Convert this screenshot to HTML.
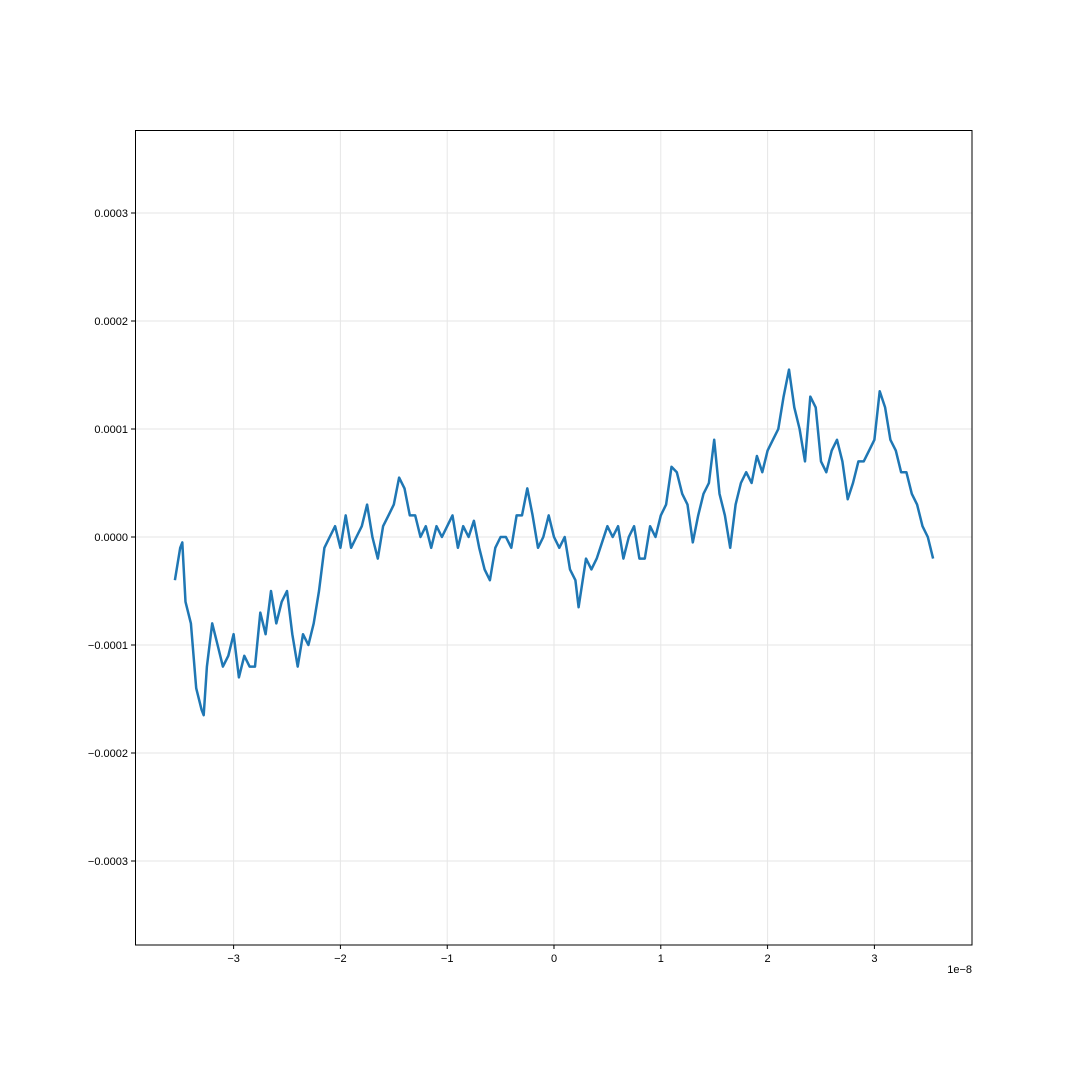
<!DOCTYPE html>
<html><head><meta charset="utf-8">
<style>
html,body{margin:0;padding:0;background:#fff;}
svg{display:block;font-family:"Liberation Sans","DejaVu Sans",sans-serif;}
</style></head>
<body>
<svg id="chart" width="1080" height="1080" viewBox="0 0 1080 1080" xmlns="http://www.w3.org/2000/svg">
<rect width="1080" height="1080" fill="#fff"/>
<g id="grid"></g>
<g id="series"></g>
<rect x="135.5" y="130.5" width="836.5" height="814.5" fill="none" stroke="#000" stroke-width="1"/>
<g id="xticks"></g>
<g id="yticks"></g>
<text x="972" y="973" text-anchor="end" font-size="11">1e−8</text>
</svg>
<script>
const xVals = [-3.55,-3.5,-3.48,-3.45,-3.4,-3.35,-3.3,-3.28,-3.25,-3.2,-3.15,-3.1,-3.05,-3.0,-2.95,-2.9,-2.85,-2.8,-2.75,-2.7,-2.65,-2.6,-2.55,-2.5,-2.45,-2.4,-2.35,-2.3,-2.25,-2.2,-2.15,-2.1,-2.05,-2.0,-1.95,-1.9,-1.85,-1.8,-1.75,-1.7,-1.65,-1.6,-1.55,-1.5,-1.45,-1.4,-1.35,-1.3,-1.25,-1.2,-1.15,-1.1,-1.05,-1.0,-0.95,-0.9,-0.85,-0.8,-0.75,-0.7,-0.65,-0.6,-0.55,-0.5,-0.45,-0.4,-0.35,-0.3,-0.25,-0.2,-0.15,-0.1,-0.05,0,0.05,0.1,0.15,0.2,0.23,0.3,0.35,0.4,0.5,0.55,0.6,0.65,0.7,0.75,0.8,0.85,0.9,0.95,1.0,1.05,1.1,1.15,1.2,1.25,1.3,1.35,1.4,1.45,1.5,1.55,1.6,1.65,1.7,1.75,1.8,1.85,1.9,1.95,2.0,2.05,2.1,2.15,2.2,2.25,2.3,2.35,2.4,2.45,2.5,2.55,2.6,2.65,2.7,2.75,2.8,2.85,2.9,2.95,3.0,3.05,3.1,3.15,3.2,3.25,3.3,3.35,3.4,3.45,3.5,3.55];
const yVals = [-4,-1,-0.5,-6,-8,-14,-16,-16.5,-12,-8,-10,-12,-11,-9,-13,-11,-12,-12,-7,-9,-5,-8,-6,-5,-9,-12,-9,-10,-8,-5,-1,0,1,-1,2,-1,0,1,3,0,-2,1,2,3,5.5,4.5,2,2,0,1,-1,1,0,1,2,-1,1,0,1.5,-1,-3,-4,-1,0,0,-1,2,2,4.5,2,-1,0,2,0,-1,0,-3,-4,-6.5,-2,-3,-2,1,0,1,-2,0,1,-2,-2,1,0,2,3,6.5,6,4,3,-0.5,2,4,5,9,4,2,-1,3,5,6,5,7.5,6,8,9,10,13,15.5,12,10,7,13,12,7,6,8,9,7,3.5,5,7,7,8,9,13.5,12,9,8,6,6,4,3,1,0,-2];
const xTicks = [-3,-2,-1,0,1,2,3];
const xTickLabels = ["−3","−2","−1","0","1","2","3"];
const yTicks = [-3,-2,-1,0,1,2,3];
const yTickLabels = ["−0.0003","−0.0002","−0.0001","0.0000","0.0001","0.0002","0.0003"];

const NS="http://www.w3.org/2000/svg";
function sx(v){return 554 + v*106.8;}
function sy(v){return 537 - v*10.8;}
function mk(tag,attrs,parent){const e=document.createElementNS(NS,tag);for(const k in attrs)e.setAttribute(k,attrs[k]);parent.appendChild(e);return e;}
const grid=document.getElementById('grid'),xt=document.getElementById('xticks'),yt=document.getElementById('yticks'),ser=document.getElementById('series');
xTicks.forEach((t,i)=>{
  const x=sx(t);
  const g=mk('line',{x1:x,x2:x,y1:130,y2:945,stroke:'#e6e6e6','stroke-width':1},grid);
  
  
  const tk=mk('line',{x1:x,x2:x,y1:945,y2:949,stroke:'#000','stroke-width':1},xt);
  
  
  const tx=mk('text',{x:x,y:962,'text-anchor':'middle','font-size':11},xt);
  tx.textContent=xTickLabels[i];
  
  
});
yTicks.forEach((t,i)=>{
  const y=sy(t*10);
  const g=mk('line',{x1:135,x2:972,y1:y,y2:y,stroke:'#e6e6e6','stroke-width':1},grid);
  
  
  const tk=mk('line',{x1:131,x2:135,y1:y,y2:y,stroke:'#000','stroke-width':1},yt);
  
  
  const tx=mk('text',{x:128,y:y+4,'text-anchor':'end','font-size':11},yt);
  tx.textContent=yTickLabels[i];
  
  
});
let d='';
xVals.forEach((v,i)=>{d+=(i?'L':'M')+sx(v).toFixed(1)+','+sy(yVals[i]).toFixed(1);});
const p=mk('path',{d:d,fill:'none',stroke:'#1f77b4','stroke-width':2.5,'stroke-linejoin':'round'},ser);


</script>
</body></html>
